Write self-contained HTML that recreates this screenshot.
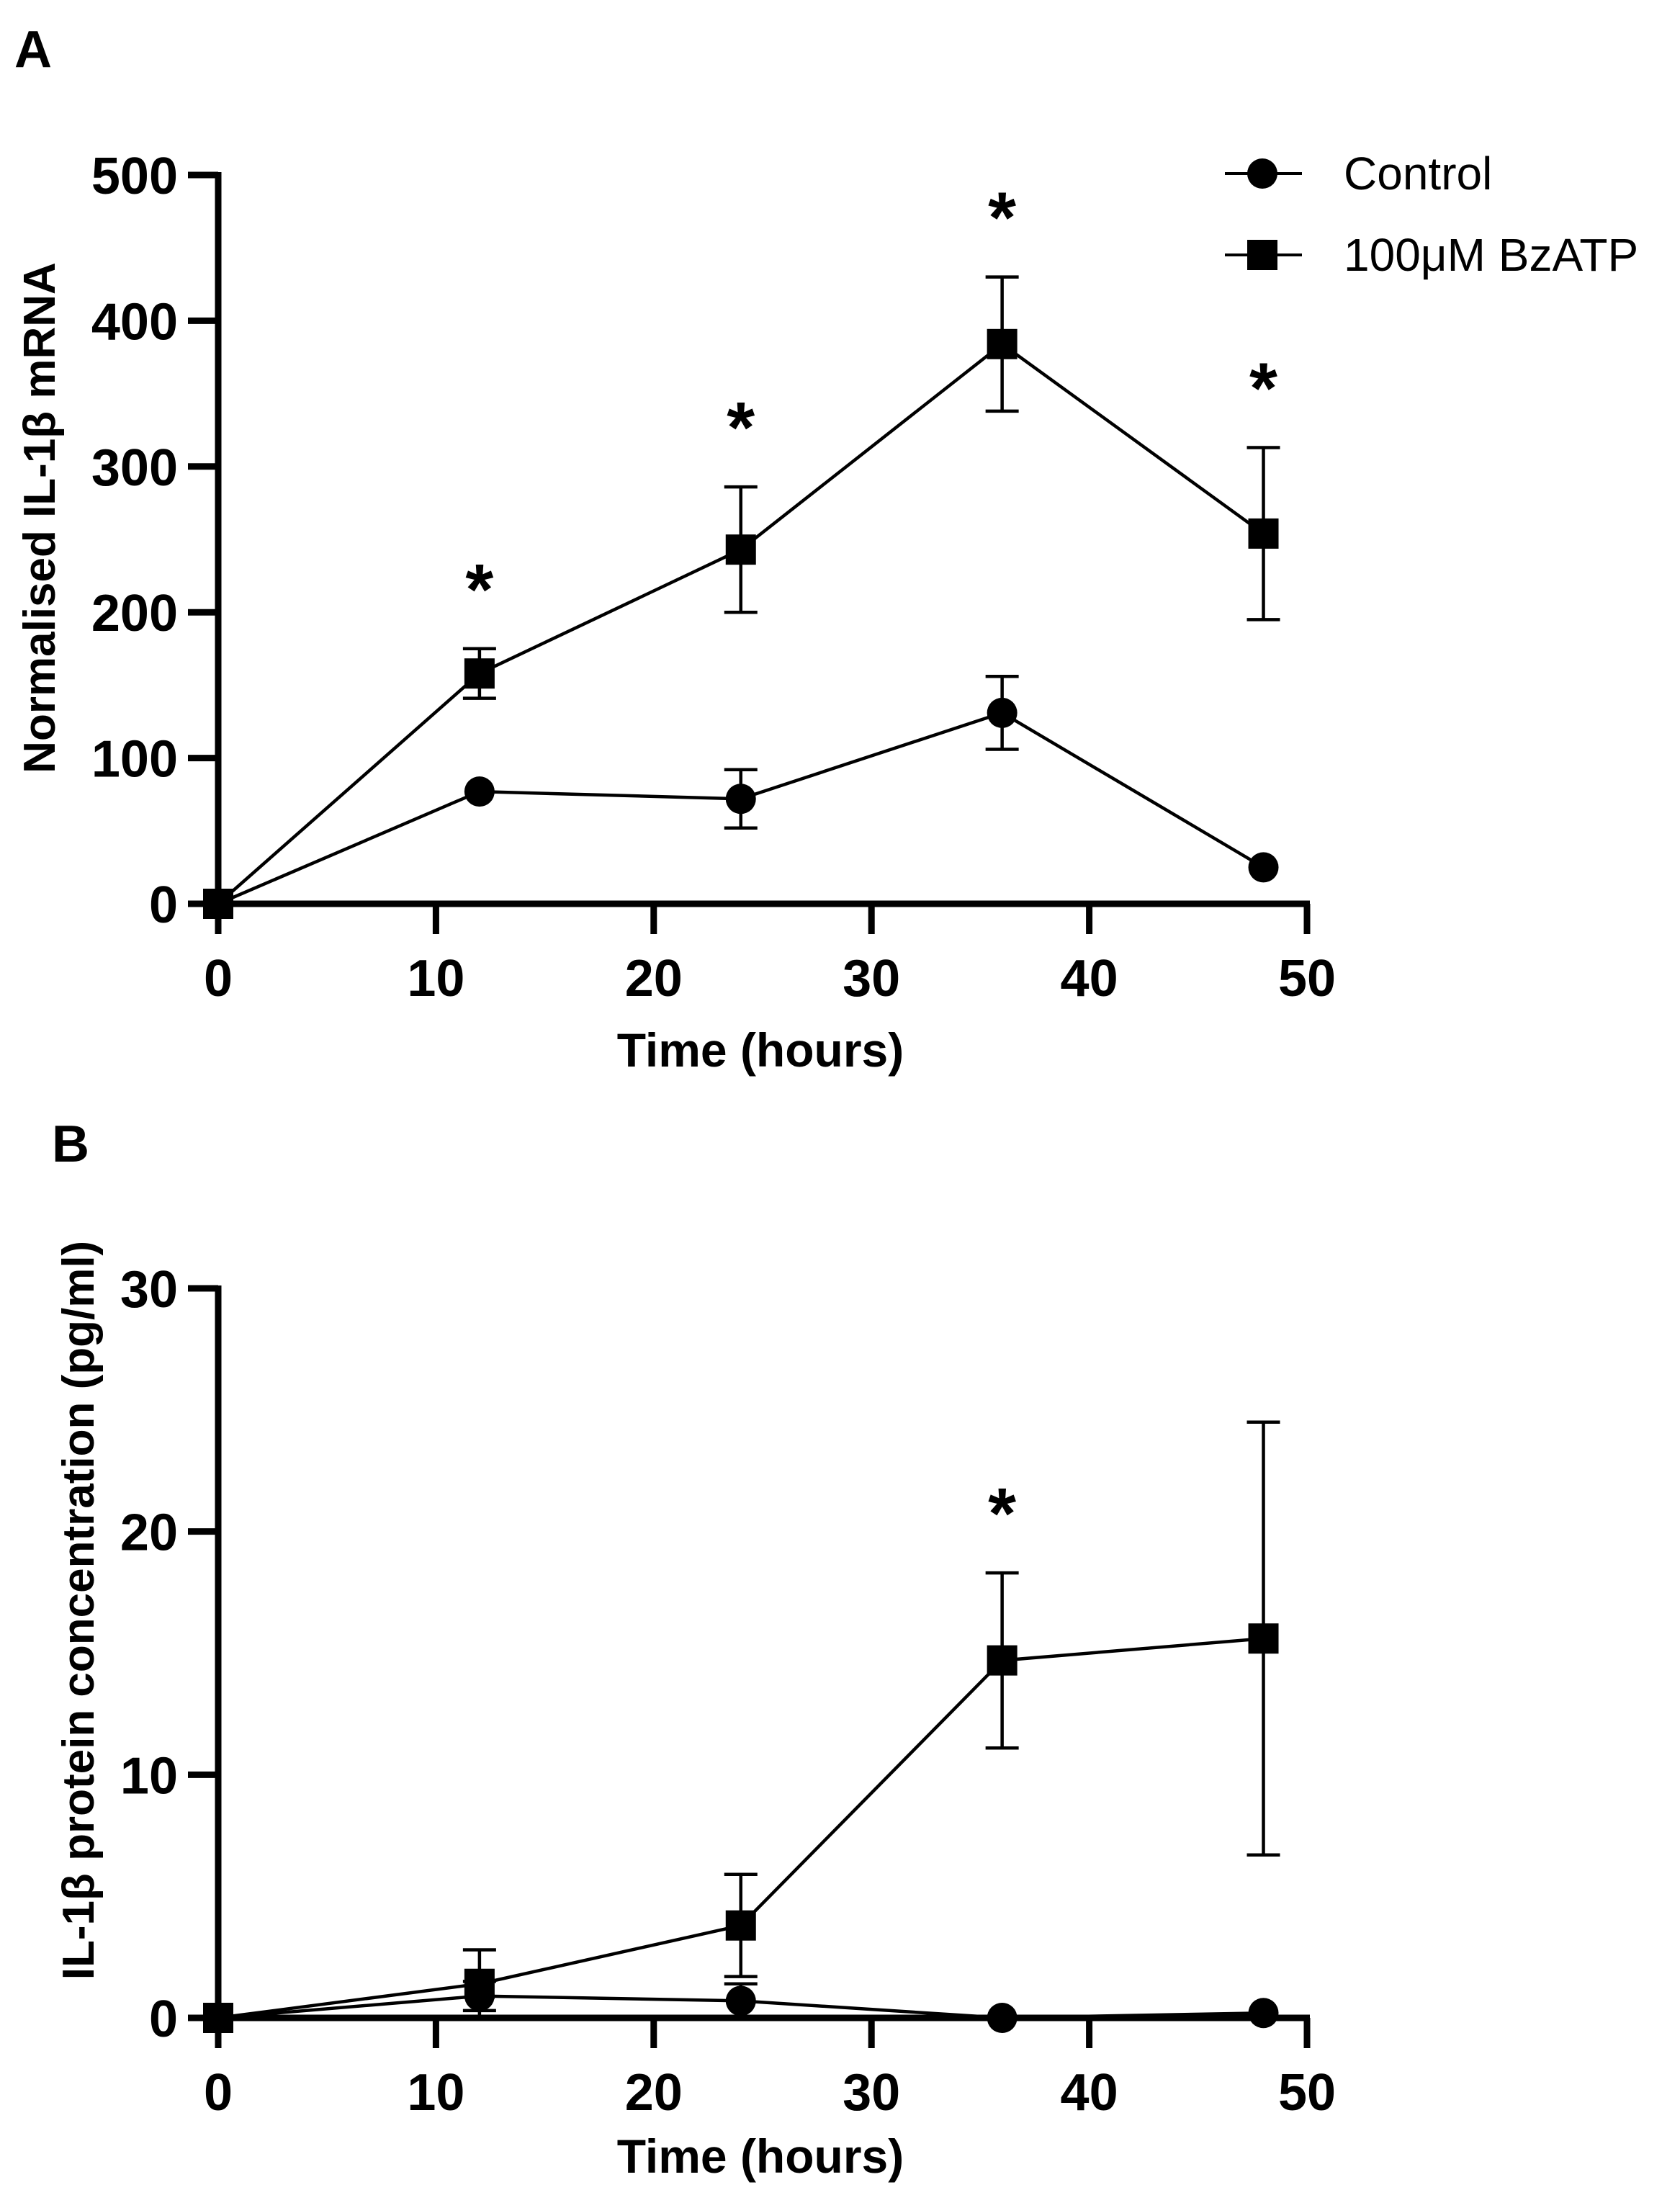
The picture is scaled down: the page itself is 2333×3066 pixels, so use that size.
<!DOCTYPE html>
<html><head><meta charset="utf-8"><style>
html,body{margin:0;padding:0;background:#fff}
svg{display:block}
text{font-family:"Liberation Sans",sans-serif;fill:#000}
</style></head><body>
<svg id="fig" xmlns="http://www.w3.org/2000/svg" width="2333" height="3066" viewBox="0 0 2333 3066">
<text x="20" y="93" font-size="72" font-weight="bold">A</text>
<text x="72" y="1613" font-size="72" font-weight="bold">B</text>
<g id="gA"></g>
<g id="gB"></g>
<g>
  <g>
    <line x1="1701" y1="241" x2="1808" y2="241" stroke="#000" stroke-width="4"/>
    <circle cx="1753" cy="241" r="21"/>
    <text x="1866" y="263" font-size="64">Control</text>
  </g>
  <g>
    <line x1="1701" y1="354" x2="1808" y2="354" stroke="#000" stroke-width="4"/>
    <rect x="1732" y="333" width="42" height="42"/>
    <text x="1866" y="376" font-size="64">100μM BzATP</text>
  </g>
</g>
</svg>
<script>
const times = [0, 12, 24, 36, 48];
const xTicks = [0, 10, 20, 30, 40, 50];
// Panel A
const aYTicks = [0, 100, 200, 300, 400, 500];
const aControl = [0, 77, 72, 131, 25];
const aControlErr = [0, 0, 20, 25, 0];
const aBz = [0, 158, 243, 384, 254];
const aBzErr = [0, 17, 43, 46, 59];
const aStars = [false, true, true, true, true];
// Panel B
const bYTicks = [0, 10, 20, 30];
const bControl = [0, 0.9, 0.7, 0, 0.2];
const bControlErr = [0, 0.6, 0.7, 0, 0];
const bBz = [0, 1.4, 3.8, 14.7, 15.6];
const bBzErr = [0, 1.4, 2.1, 3.6, 8.9];
const bStars = [false, false, false, true, false];

const NS = "http://www.w3.org/2000/svg";
function mk(parent, tag, attrs, txt) {
  const e = document.createElementNS(NS, tag);
  for (const k in attrs) e.setAttribute(k, attrs[k]);
  if (txt !== undefined) e.textContent = txt;
  parent.appendChild(e);
  return e;
}
const X = v => 303 + v * (1815 - 303) / 50;

function panel(g, y0, yTop, yMax, yTicks, ctrl, ctrlErr, bz, bzErr, stars, titleY, titleX, titleCY, xTitleY) {
  const Y = v => y0 - v * (y0 - yTop) / yMax;
  let ax = mk(g, 'line', {x1: 303, y1: Y(yMax) - 4, x2: 303, y2: y0 + 4, stroke: '#000', 'stroke-width': 9});
  
  
  ax = mk(g, 'line', {x1: 299, y1: y0, x2: X(50) + 4, y2: y0, stroke: '#000', 'stroke-width': 9});
  
  
  yTicks.forEach(t => {
    const l = mk(g, 'line', {x1: 261, y1: Y(t), x2: 303, y2: Y(t), stroke: '#000', 'stroke-width': 9});
    
    
    const tx = mk(g, 'text', {x: 247, y: Y(t) + 26, 'font-size': 72, 'font-weight': 'bold', 'text-anchor': 'end'}, String(t));
    
    
  });
  xTicks.forEach(t => {
    const l = mk(g, 'line', {x1: X(t), y1: y0, x2: X(t), y2: y0 + 42, stroke: '#000', 'stroke-width': 9});
    
    
    const tx = mk(g, 'text', {x: X(t), y: y0 + 128, 'font-size': 72, 'font-weight': 'bold', 'text-anchor': 'middle'}, String(t));
    
    
  });
  const xt = mk(g, 'text', {x: 1056, y: xTitleY, 'font-size': 66, 'font-weight': 'bold', 'text-anchor': 'middle'}, 'Time (hours)');
  
  
  const yt = mk(g, 'text', {x: 0, y: 0, 'font-size': 62, 'font-weight': 'bold', 'text-anchor': 'middle', transform: `translate(${titleX},${titleCY}) rotate(-90)`}, titleY);
  
  

  function series(vals, errs, kind) {
    const pts = times.map((t, i) => X(t) + ',' + Y(vals[i])).join(' ');
    const pl = mk(g, 'polyline', {points: pts, fill: 'none', stroke: '#000', 'stroke-width': 4.5});
    
    
    times.forEach((t, i) => {
      if (errs[i] > 0) {
        const hi = vals[i] + errs[i], lo = Math.max(vals[i] - errs[i], 0);
        const eb = mk(g, 'path', {d: `M${X(t)},${Y(hi)}V${Y(lo)}M${X(t) - 23},${Y(hi)}H${X(t) + 23}M${X(t) - 23},${Y(lo)}H${X(t) + 23}`, stroke: '#000', 'stroke-width': 4.5, fill: 'none'});
        
        
      }
      let m;
      if (kind === 'control') m = mk(g, 'circle', {cx: X(t), cy: Y(vals[i]), r: 21});
      else m = mk(g, 'rect', {x: X(t) - 21, y: Y(vals[i]) - 21, width: 42, height: 42});
      
      
    });
  }
  series(ctrl, ctrlErr, 'control');
  series(bz, bzErr, 'bzatp');
  times.forEach((t, i) => {
    if (!stars[i]) return;
    const s = mk(g, 'text', {x: X(t), y: Y(bz[i] + bzErr[i]) - 48, 'font-size': 100, 'font-weight': 'bold', 'text-anchor': 'middle'}, '*');
    
    
  });
}
panel(document.getElementById('gA'), 1255, 243, 500, aYTicks, aControl, aControlErr, aBz, aBzErr, aStars,
  'Normalised IL-1β mRNA', 76, 719, 1481);
panel(document.getElementById('gB'), 2802, 1789, 30, bYTicks, bControl, bControlErr, bBz, bBzErr, bStars,
  'IL-1β protein concentration (pg/ml)', 130, 2236, 3017);
</script>
</body></html>
